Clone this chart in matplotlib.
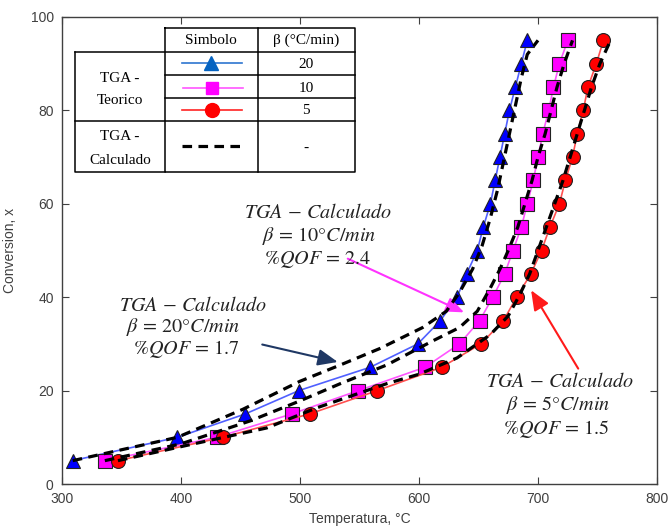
import matplotlib; matplotlib.use("Agg")
import matplotlib.pyplot as plt

# conversion levels (experimental points)
conv = [5, 10, 15, 20, 25, 30, 35, 40, 45, 50, 55, 60, 65, 70, 75, 80, 85, 90, 95]
T20 = [309, 397, 454, 499, 559, 599, 618, 632, 640, 649, 654, 660, 664, 668, 672, 676, 681, 686, 691]
T10 = [336, 430, 493, 549, 605, 634, 651, 662, 672, 679, 686, 691, 696, 700, 704, 709, 713, 718, 725]
T5 = [347, 435, 508, 565, 619, 652, 671, 682, 694, 703, 710, 718, 723, 729, 733, 738, 742, 749, 755]

# calculated curves (TGA-Calculado)
C20_T = [309, 397, 452, 500, 534, 567, 603, 623, 634, 645, 653, 660, 666, 671, 676, 681, 686, 691, 700]
C20_x = [5, 10, 16, 22, 25.5, 29, 33.5, 37, 41, 46, 51, 57, 63, 69, 75, 81, 87, 92, 95]
C10_T = [336, 400, 458, 500, 534, 573, 612, 634, 649, 660, 668, 675, 683, 689, 695, 700, 706, 711, 716, 722, 729]
C10_x = [5, 8.6, 13.5, 17.8, 21.5, 25.5, 30.7, 33.5, 37, 42, 46, 50, 55, 60, 65, 70, 75, 80, 85, 90, 95]
C5_T = [347, 400, 472, 514, 573, 600, 632, 660, 675, 685, 693, 700, 707, 714, 721, 727, 733, 739, 745, 752, 761]
C5_x = [5, 8, 12, 16.3, 21.5, 23.5, 27, 32, 36, 40.7, 45, 50, 55, 60, 65, 70, 75, 80, 85, 90, 95]

plt.rcParams["mathtext.fontset"] = "stix"
fig = plt.figure(figsize=(6.7, 5.27), dpi=100)
ax = fig.add_axes([62/670, 1-484/527, 595/670, 467/527])

ax.plot(T20, conv, "-", color="#5060ff", lw=1.2, marker="^", ms=10, mfc="#0000ff", mec="#222222", mew=0.8, zorder=3)
ax.plot(T10, conv, "-", color="#ff55ff", lw=1.2, marker="s", ms=10, mfc="#ff00ff", mec="#222222", mew=0.8, zorder=3)
ax.plot(T5, conv, "-", color="#ff5050", lw=1.2, marker="o", ms=10, mfc="#ff0000", mec="#222222", mew=0.8, zorder=3)
for t, x in [(C20_T, C20_x), (C10_T, C10_x), (C5_T, C5_x)]:
    ax.plot(t, x, color="black", lw=2.3, dashes=(3, 2), zorder=4)

ax.set_xlim(300, 800); ax.set_ylim(0, 100)
ax.set_xticks(range(300, 801, 100)); ax.set_yticks(range(0, 101, 20))
ax.tick_params(direction="in", top=True, right=True, length=5, width=0.8, colors="#404040",
               labelsize=10, pad=6)
for lab in ax.get_xticklabels() + ax.get_yticklabels(): lab.set_fontfamily("Liberation Sans")
for s in ax.spines.values(): s.set_color("#404040"); s.set_linewidth(1.0)
ax.set_xlabel("Temperatura, °C", fontfamily="Liberation Sans", fontsize=10, color="#404040", labelpad=4)
ax.set_ylabel("Conversion, x", fontfamily="Liberation Sans", fontsize=10, color="#404040", labelpad=10)

# annotations
notes = [
    (515, 58.2, r"$TGA\,-\,Calculado$"), (516, 53.2, r"$\beta\,=\,10°C/min$"), (515, 48.0, r"$\%QOF\,=\,2.4$"),
    (410, 38.2, r"$TGA\,-\,Calculado$"), (402, 33.6, r"$\beta\,=\,20°C/min$"), (405, 28.9, r"$\%QOF\,=\,1.7$"),
    (718, 21.9, r"$TGA\,-\,Calculado$"), (717, 17.0, r"$\beta\,=\,5°C/min$"), (715, 11.8, r"$\%QOF\,=\,1.5$"),
]
for x, y, s in notes:
    ax.text(x, y, s, ha="center", va="center", fontsize=14.5, color="#222222", zorder=6)
ax.annotate("", xy=(640, 36.5), xytext=(538, 48.5),
            arrowprops=dict(arrowstyle="-|>,head_length=1.1,head_width=0.45", color="#ff33ff", lw=1.5))
ax.annotate("", xy=(534, 26.0), xytext=(466, 30.0),
            arrowprops=dict(arrowstyle="-|>,head_length=1.2,head_width=0.5", color="#1f3864", lw=1.5))
ax.annotate("", xy=(693, 42.0), xytext=(735, 24.2),
            arrowprops=dict(arrowstyle="-|>,head_length=1.2,head_width=0.5", color="#ff1a1a", lw=1.5))

# legend table, drawn in figure pixels
tb = fig.add_axes([0, 0, 1, 1]); tb.set_xlim(0, 670); tb.set_ylim(527, 0); tb.axis("off")
k = dict(color="black", lw=1.1)
tb.plot([165, 355, 355, 165, 165], [28, 28, 172, 172, 28], **k)
tb.plot([75, 355], [52, 52], **k); tb.plot([75, 75, 165], [52, 172, 172], **k)
tb.plot([258, 258], [28, 172], **k)
tb.plot([165, 355], [75, 75], **k); tb.plot([165, 355], [98, 98], **k); tb.plot([75, 355], [121, 121], **k)
ft = dict(fontfamily="Liberation Serif", fontsize=11, ha="center", va="center")
tb.text(211, 40, "Simbolo", **ft); tb.text(306, 40, "β (°C/min)", **ft)
tb.text(120, 78, "TGA -", **ft); tb.text(120, 100, "Teorico", **ft)
tb.text(120, 137, "TGA -", **ft); tb.text(120, 160, "Calculado", **ft)
tb.text(306, 64, "20", **ft); tb.text(306, 88, "10", **ft); tb.text(306, 111, "5", **ft); tb.text(306, 148, "-", **ft)
tb.plot([182, 242], [63, 63], color="#2e75d0", lw=1.2)
tb.plot([211], [63], marker="^", ms=10, color="#0563c1")
tb.plot([183, 243], [88, 88], color="#ff55ff", lw=1.2)
tb.plot([212], [88], marker="s", ms=9, color="#ff00ff")
tb.plot([182, 242], [110, 110], color="#ff2222", lw=1.2)
tb.plot([212], [110], marker="o", ms=10, color="#ff0000")
tb.plot([182, 242], [146, 146], color="black", lw=2.3, dashes=(3, 2))

fig.savefig("out.png", dpi=100)
